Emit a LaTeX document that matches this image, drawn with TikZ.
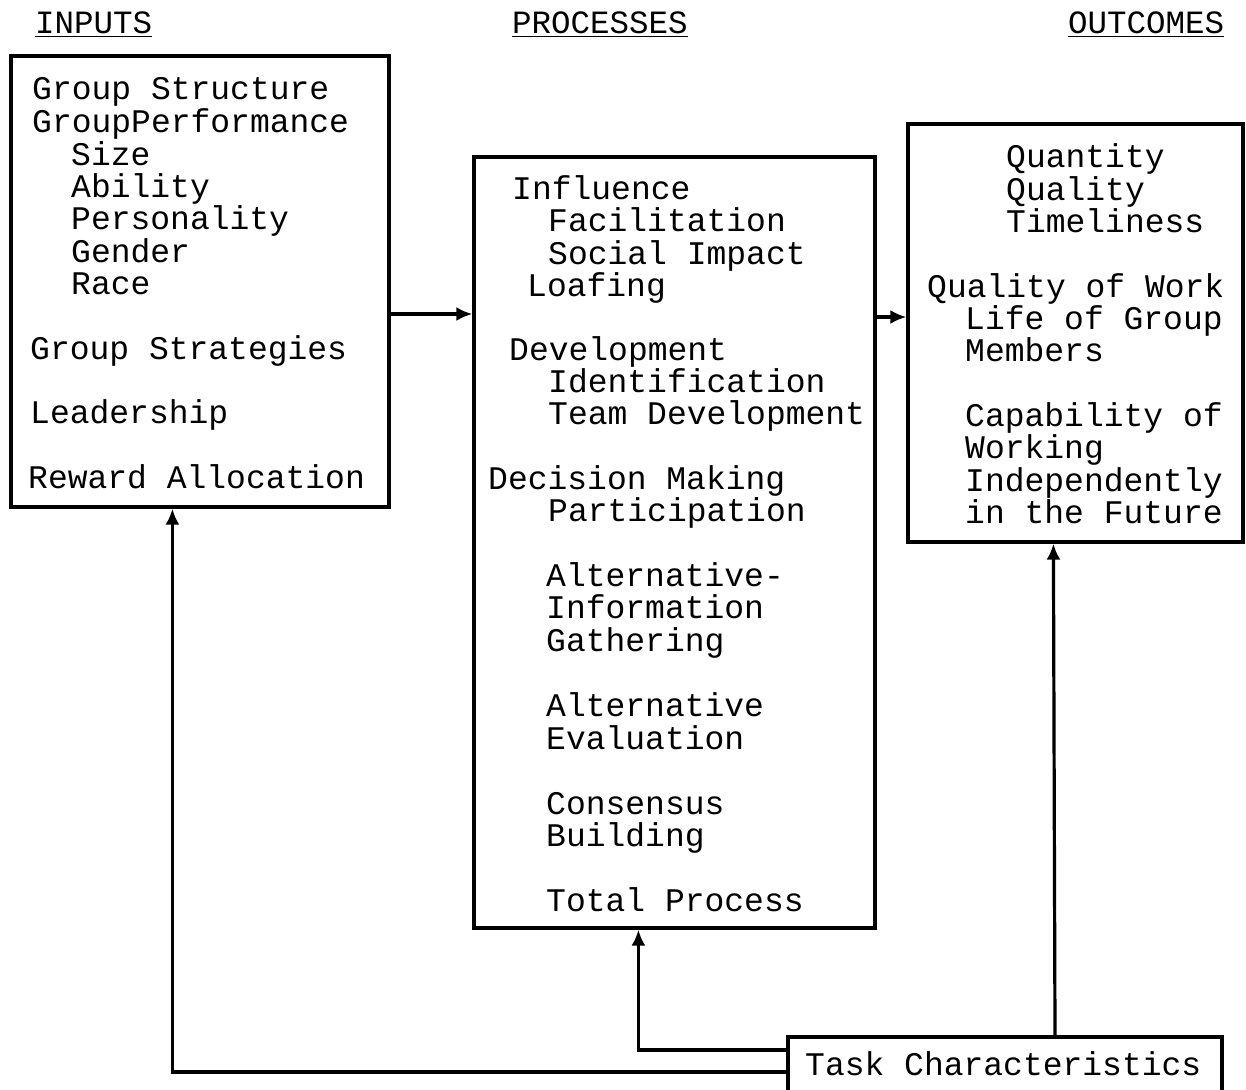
\documentclass[tikz,border=0pt]{standalone}
\usepackage{fontspec}
\setmainfont{Liberation Mono}
\usetikzlibrary{arrows.meta}
\tikzset{
  box/.style={rectangle,draw,line width=3.2pt,inner sep=0pt},
  line/.style={anchor=base west,inner sep=0pt,font=\fontsize{33}{32}\selectfont},
  head/.style={anchor=base west,inner sep=0pt,font=\fontsize{32.5}{32}\selectfont},
  arr/.style={line width=3.2pt,-{Latex[length=16pt,width=14pt]}}
}
\begin{document}
\begin{tikzpicture}[x=1pt,y=-1pt]
\useasboundingbox (0,0) rectangle (1246,1089);

% column headings
\node[head] (hin) at (35,34) {\underline{INPUTS}};
\node[head] (hpr) at (512,34) {\underline{PROCESSES}};
\node[head] (hout) at (1068,34) {\underline{OUTCOMES}};

% the four boxes
\node[box,minimum width=378pt,minimum height=451pt] (inputs) at (200,281.5) {};
\node[box,minimum width=401pt,minimum height=771pt] (processes) at (674.5,542.5) {};
\node[box,minimum width=335pt,minimum height=418pt] (outcomes) at (1075.5,333) {};
\node[box,minimum width=434pt,minimum height=56pt] (task) at (1005,1065) {};

% box contents
\foreach \x/\y/\t [count=\i] in {32/100/Group Structure, 32/132/GroupPerformance,
    71/165/Size, 71/197/Ability, 71/229/Personality, 71/262/Gender, 71/294/Race,
    30/359/Group Strategies, 30/423/Leadership, 28/488/Reward Allocation}
  \node[line] (in\i) at (\x,\y) {\t};
\foreach \x/\y/\t [count=\i] in {512/199/Influence, 548/231/Facilitation,
    548/264/Social Impact, 527/296/Loafing, 509/360/Development,
    548/392/Identification, 548/424/Team Development, 488/489/Decision Making,
    548/521/Participation, 546/586/Alternative-, 546/618/Information,
    546/651/Gathering, 546/716/Alternative, 546/749/Evaluation,
    546/814/Consensus, 546/846/Building, 546/911/Total Process}
  \node[line] (pr\i) at (\x,\y) {\t};
\foreach \x/\y/\t [count=\i] in {1006/167/Quantity, 1006/200/Quality,
    1006/232/Timeliness, 927/297/Quality of Work, 965/329/Life of Group,
    965/361/Members, 965/426/Capability of, 965/458/Working,
    965/491/Independently, 965/523/in the Future}
  \node[line] (out\i) at (\x,\y) {\t};
\node[line] (tasktxt) at (805,1075) {Task Characteristics};

% connectors
\coordinate (lvA) at (0,314);
\coordinate (lvB) at (0,317);
\draw[arr] (inputs.east |- lvA) -- (processes.west |- lvA);
\draw[arr] (processes.east |- lvB) -- (outcomes.west |- lvB);
\draw[arr] ([yshift=-7pt]task.west) -| ([xshift=163pt]inputs.south west);
\draw[arr] ([yshift=15pt]task.west) -| ([xshift=166pt]processes.south west);
\draw[arr] ([xshift=50pt]task.north) -- ([xshift=147pt]outcomes.south west);
\end{tikzpicture}
\end{document}
